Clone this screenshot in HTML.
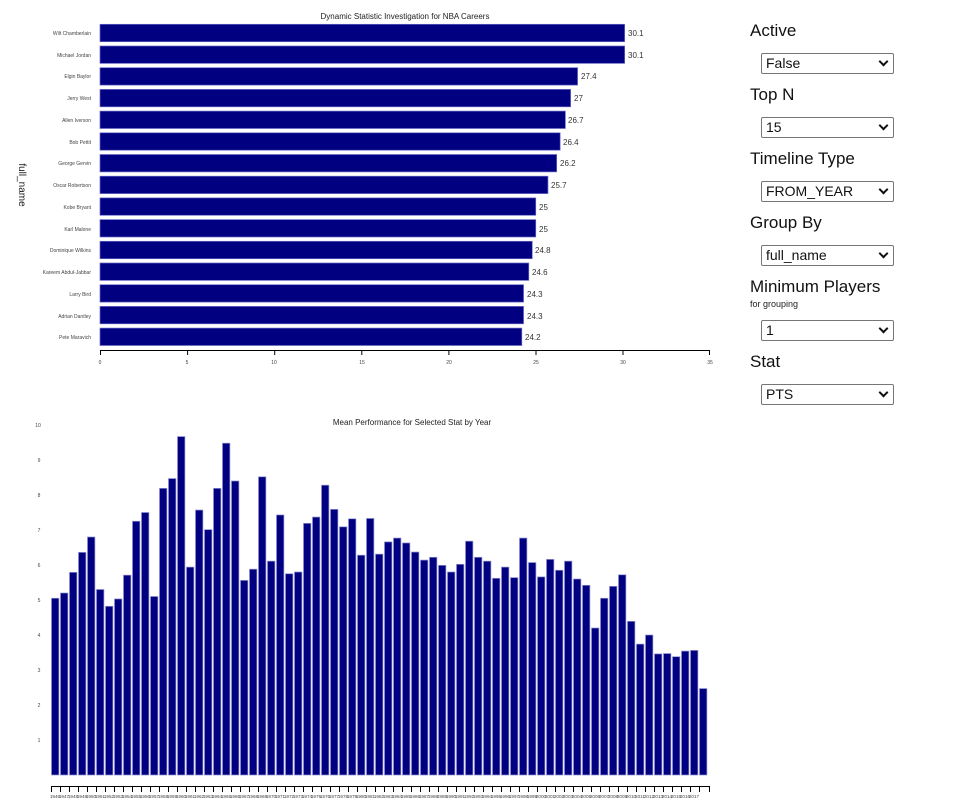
<!DOCTYPE html>
<html><head><meta charset="utf-8"><style>
body{margin:0;background:#fff;width:960px;height:800px;overflow:hidden;font-family:"Liberation Sans",sans-serif;position:relative}
.lbl{position:absolute;left:750px;font-size:17px;color:#111}
.sel{position:absolute;left:761px;width:127px;height:19px;border:1px solid #767676;border-radius:2px;font-size:14px;line-height:19px;padding-left:4px;box-sizing:content-box;color:#111}
.sel:after{content:"";position:absolute;right:6px;top:4px;width:5px;height:5px;border-right:2px solid #111;border-bottom:2px solid #111;transform:rotate(45deg)}
svg{position:absolute;left:0;top:0}
</style></head><body>
<svg width="960" height="800" font-family="Liberation Sans, sans-serif">
<text x="405" y="19" font-size="8" text-anchor="middle" fill="#222">Dynamic Statistic Investigation for NBA Careers</text>
<text transform="translate(19,185) rotate(90)" font-size="10" text-anchor="middle" fill="#222">full_name</text>
<g fill="#000080" stroke="#6a6ac8" stroke-width="0.7" id="top"></g>
<g font-size="5" fill="#444" text-anchor="end">
<text x="91" y="35">Wilt Chamberlain</text>
<text x="91" y="57">Michael Jordan</text>
<text x="91" y="78">Elgin Baylor</text>
<text x="91" y="100">Jerry West</text>
<text x="91" y="122">Allen Iverson</text>
<text x="91" y="144">Bob Pettit</text>
<text x="91" y="165">George Gervin</text>
<text x="91" y="187">Oscar Robertson</text>
<text x="91" y="209">Kobe Bryant</text>
<text x="91" y="231">Karl Malone</text>
<text x="91" y="252">Dominique Wilkins</text>
<text x="91" y="274">Kareem Abdul-Jabbar</text>
<text x="91" y="296">Larry Bird</text>
<text x="91" y="318">Adrian Dantley</text>
<text x="91" y="339">Pete Maravich</text>
</g>
<g font-size="8" fill="#333">
<text x="628" y="36">30.1</text>
<text x="628" y="58">30.1</text>
<text x="581" y="79">27.4</text>
<text x="574" y="101">27</text>
<text x="568" y="123">26.7</text>
<text x="563" y="145">26.4</text>
<text x="560" y="166">26.2</text>
<text x="551" y="188">25.7</text>
<text x="539" y="210">25</text>
<text x="539" y="232">25</text>
<text x="535" y="253">24.8</text>
<text x="532" y="275">24.6</text>
<text x="527" y="297">24.3</text>
<text x="527" y="319">24.3</text>
<text x="525" y="340">24.2</text>
</g>
<path d="M100.5,355V350.5H709.5V355M187.6,350V355M274.7,350V355M361.8,350V355M448.9,350V355M536,350V355M623,350V355" stroke="#000" fill="none"/>
<g font-size="5" fill="#444" text-anchor="middle">
<text x="100" y="364">0</text><text x="187" y="364">5</text><text x="274" y="364">10</text><text x="362" y="364">15</text><text x="449" y="364">20</text><text x="536" y="364">25</text><text x="623" y="364">30</text><text x="710" y="364">35</text>
</g>
<text x="412" y="425" font-size="8" text-anchor="middle" fill="#222">Mean Performance for Selected Stat by Year</text>
<g font-size="5" fill="#444" text-anchor="middle">
<text x="38" y="427">10</text><text x="39" y="462">9</text><text x="39" y="497">8</text><text x="39" y="532">7</text><text x="39" y="567">6</text><text x="39" y="602">5</text><text x="39" y="637">4</text><text x="39" y="672">3</text><text x="39" y="707">2</text><text x="39" y="742">1</text>
</g>
<g fill="#000080" stroke="#8f8fd0" stroke-width="0.7" id="bot"></g>
<path id="bax" stroke="#000" fill="none" d=""/>
<g font-size="4.6" fill="#444" text-anchor="middle" id="yrs">
<text x="55" y="798">1946</text><text x="64" y="798">1947</text><text x="73" y="798">1948</text><text x="82" y="798">1949</text><text x="91" y="798">1950</text><text x="100" y="798">1951</text><text x="109" y="798">1952</text><text x="118" y="798">1953</text><text x="127" y="798">1954</text><text x="136" y="798">1955</text><text x="145" y="798">1956</text><text x="154" y="798">1957</text><text x="163" y="798">1958</text><text x="172" y="798">1959</text><text x="181" y="798">1960</text><text x="190" y="798">1961</text><text x="199" y="798">1962</text><text x="208" y="798">1963</text><text x="217" y="798">1964</text><text x="226" y="798">1965</text><text x="235" y="798">1966</text><text x="244" y="798">1967</text><text x="253" y="798">1968</text><text x="262" y="798">1969</text><text x="271" y="798">1970</text><text x="280" y="798">1971</text><text x="289" y="798">1972</text><text x="298" y="798">1973</text><text x="307" y="798">1974</text><text x="316" y="798">1975</text><text x="325" y="798">1976</text><text x="334" y="798">1977</text><text x="343" y="798">1978</text><text x="352" y="798">1979</text><text x="361" y="798">1980</text><text x="370" y="798">1981</text><text x="379" y="798">1982</text><text x="388" y="798">1983</text><text x="397" y="798">1984</text><text x="406" y="798">1985</text><text x="415" y="798">1986</text><text x="424" y="798">1987</text><text x="433" y="798">1988</text><text x="442" y="798">1989</text><text x="451" y="798">1990</text><text x="460" y="798">1991</text><text x="469" y="798">1992</text><text x="478" y="798">1993</text><text x="487" y="798">1994</text><text x="496" y="798">1995</text><text x="505" y="798">1996</text><text x="514" y="798">1997</text><text x="523" y="798">1998</text><text x="532" y="798">1999</text><text x="541" y="798">2000</text><text x="550" y="798">2001</text><text x="559" y="798">2002</text><text x="568" y="798">2003</text><text x="577" y="798">2004</text><text x="586" y="798">2005</text><text x="595" y="798">2006</text><text x="604" y="798">2007</text><text x="613" y="798">2008</text><text x="622" y="798">2009</text><text x="631" y="798">2010</text><text x="640" y="798">2011</text><text x="649" y="798">2012</text><text x="658" y="798">2013</text><text x="667" y="798">2014</text><text x="676" y="798">2015</text><text x="685" y="798">2016</text><text x="694" y="798">2017</text>
</g>
</svg>
<div class="lbl" style="top:21px">Active</div><div class="sel" style="top:53px">False</div>
<div class="lbl" style="top:85px">Top N</div><div class="sel" style="top:117px">15</div>
<div class="lbl" style="top:149px">Timeline Type</div><div class="sel" style="top:181px">FROM_YEAR</div>
<div class="lbl" style="top:213px">Group By</div><div class="sel" style="top:245px">full_name</div>
<div class="lbl" style="top:277px">Minimum Players</div><div style="position:absolute;left:750px;top:299px;font-size:9px;color:#222">for grouping</div><div class="sel" style="top:320px">1</div>
<div class="lbl" style="top:352px">Stat</div><div class="sel" style="top:384px">PTS</div>
<script>
var tv=[30.1,30.1,27.4,27,26.7,26.4,26.2,25.7,25,25,24.8,24.6,24.3,24.3,24.2],s="";
tv.forEach(function(v,i){s+='<rect x="100" y="'+(24.3+i*21.7)+'" width="'+(v*17.43)+'" height="17.4"/>';});
document.getElementById('top').innerHTML=s;
var bv=[5.05,5.2,5.79,6.36,6.8,5.3,4.82,5.03,5.71,7.25,7.5,5.1,8.19,8.47,9.67,5.94,7.57,7.01,8.19,9.48,8.4,5.56,5.88,8.52,6.11,7.43,5.75,5.8,7.19,7.37,8.28,7.59,7.09,7.32,6.28,7.33,6.31,6.66,6.77,6.63,6.37,6.14,6.22,5.99,5.8,6.02,6.68,6.22,6.11,5.62,5.94,5.64,6.77,6.07,5.66,6.16,5.85,6.11,5.6,5.42,4.2,5.05,5.39,5.72,4.39,3.74,4.0,3.46,3.47,3.38,3.54,3.56,2.47];
s="";var d="M51.5,792V786.5H709.5V792";
bv.forEach(function(v,i){s+='<rect x="'+(51.5+i*9)+'" y="'+(775-35*v)+'" width="7.4" height="'+(35*v)+'"/>';d+="M"+(51.5+i*9)+",786V792";});
document.getElementById('bot').innerHTML=s;document.getElementById('bax').setAttribute('d',d);
</script>
</body></html>
